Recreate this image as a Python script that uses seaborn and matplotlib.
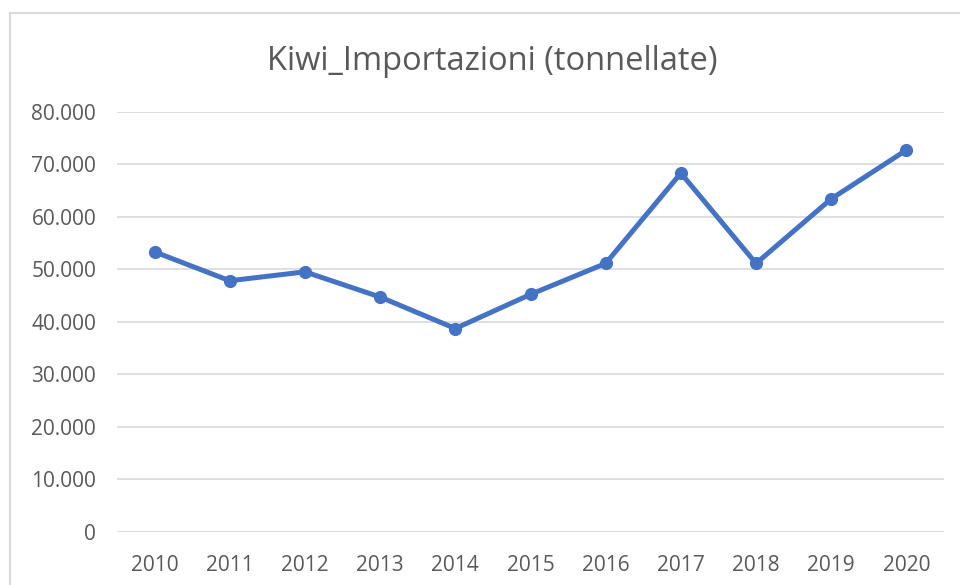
import matplotlib
matplotlib.use("Agg")
import matplotlib.pyplot as plt
import matplotlib.patches as mpatches
from matplotlib.ticker import FuncFormatter, FixedLocator
import seaborn as sns
import pandas as pd

years = [2010, 2011, 2012, 2013, 2014, 2015, 2016, 2017, 2018, 2019, 2020]
imports_t = [53300, 47800, 49500, 44700, 38700, 45200, 51100, 68300, 51100, 63400, 72700]
y_ticks = [0, 10000, 20000, 30000, 40000, 50000, 60000, 70000, 80000]
title = "Kiwi_Importazioni (tonnellate)"

df = pd.DataFrame({"Anno": years, "Tonnellate": imports_t})

sns.set_theme(style="white")
plt.rcParams['font.family'] = ['Open Sans', 'DejaVu Sans']

fig = plt.figure(figsize=(9.6, 5.85), dpi=100)
ax = fig.add_axes([117/960, 1 - 531.7/585, (944 - 117)/960, (531.7 - 111.7)/585])

sns.lineplot(data=df, x="Anno", y="Tonnellate", ax=ax, color="#4472C4",
             linewidth=3.6, marker="o", markersize=9.5, markeredgewidth=0,
             markerfacecolor="#4472C4", zorder=3)

ax.set_xlim(years[0] - 0.5, years[-1] + 0.5)
ax.set_ylim(y_ticks[0], y_ticks[-1])
ax.xaxis.set_major_locator(FixedLocator(years))
ax.set_xticklabels([str(y) for y in years])
ax.yaxis.set_major_locator(FixedLocator(y_ticks))
ax.yaxis.set_major_formatter(FuncFormatter(lambda v, p: f"{int(v):,}".replace(",", ".")))

ax.grid(axis="y", color="#D9D9D9", linewidth=1.2)
ax.grid(axis="x", visible=False)
ax.set_axisbelow(True)
for s in ax.spines.values():
    s.set_visible(False)
ax.set_xlabel("")
ax.set_ylabel("")
ax.tick_params(axis="both", length=0, labelsize=15, labelcolor="#595959")
ax.tick_params(axis="y", pad=15)
ax.tick_params(axis="x", pad=17)
ax.patch.set_alpha(0)

fig.text(492/960, 1 - 61/585, title, ha="center", va="center",
         fontsize=23.5, color="#595959")

border = mpatches.Rectangle((10/960, -0.2), 1.2, (1 - 13/585) + 0.2,
                            transform=fig.transFigure, fill=False,
                            edgecolor="#D9D9D9", linewidth=1.5)
fig.patches.append(border)

fig.savefig("out.png", dpi=100, facecolor="white")
